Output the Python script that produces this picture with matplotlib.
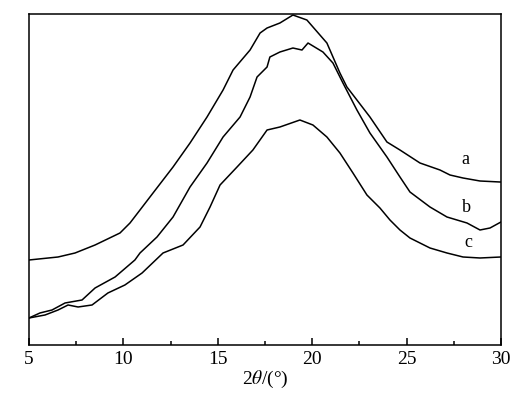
import numpy as np
import matplotlib
matplotlib.use('Agg')
import matplotlib.pyplot as plt
from matplotlib.ticker import MultipleLocator

plt.rcParams['font.family'] = 'Liberation Serif'
plt.rcParams['mathtext.fontset'] = 'stix'

# XRD patterns (2theta in degrees, intensity in arbitrary units)
a_x = [5.0, 6.54, 7.44, 8.50, 9.82, 10.35, 10.88, 11.57, 12.63, 13.53, 14.43, 15.28, 15.81,
       16.71, 17.24, 17.61, 18.29, 18.98, 19.72, 20.78, 21.47, 21.84, 22.37, 23.06, 23.96,
       24.65, 25.71, 26.77, 27.30, 27.99, 28.89, 29.95, 30.0]
a_y = [85, 88, 92, 100, 112, 122, 135, 152, 178, 202, 228, 255, 275,
       295, 312, 317, 322, 330, 325, 302, 272, 258, 245, 228, 203,
       195, 182, 175, 170, 167, 164, 163, 163]

b_x = [5.0, 5.58, 6.22, 6.91, 7.81, 8.50, 9.56, 10.61, 10.88, 11.78, 12.63, 13.53, 14.43,
       15.28, 16.18, 16.71, 17.08, 17.61, 17.76, 18.29, 18.98, 19.46, 19.78, 20.57, 21.10,
       21.63, 22.37, 23.06, 23.96, 24.65, 25.18, 26.24, 27.14, 28.20, 28.89, 29.42, 30.0]
b_y = [27, 32, 35, 42, 45, 57, 68, 85, 92, 108, 128, 158, 182,
       208, 228, 248, 268, 278, 288, 293, 297, 295, 302, 293, 282,
       262, 235, 212, 188, 168, 153, 138, 128, 122, 115, 117, 123]

c_x = [5.0, 5.85, 6.54, 7.07, 7.60, 8.34, 9.18, 10.08, 10.99, 12.10, 13.16, 14.06, 14.59,
       15.12, 16.02, 16.86, 17.61, 18.29, 19.35, 20.04, 20.78, 21.47, 22.16, 22.90, 23.59,
       24.12, 24.65, 25.18, 26.24, 27.14, 27.99, 28.89, 30.0]
c_y = [27, 30, 35, 40, 38, 40, 52, 60, 72, 92, 100, 118, 138,
       160, 178, 195, 215, 218, 225, 220, 208, 192, 172, 150, 137,
       125, 115, 107, 97, 92, 88, 87, 88]

labels = ['a', 'b', 'c']
label_x = [28.09, 28.15, 28.25]
label_y = [185, 137, 102]

fig = plt.figure(figsize=(5.29, 3.98), dpi=100)
ax = fig.add_axes([0.0548, 0.1332, 0.8922, 0.8316])

for xs, ys in [(a_x, a_y), (b_x, b_y), (c_x, c_y)]:
    ax.plot(xs, ys, color='black', lw=1.1)

for lab, lx, ly in zip(labels, label_x, label_y):
    ax.text(lx, ly, lab, fontsize=13, ha='center', va='center')

ax.set_xlim(5, 30)
ax.set_ylim(0, 331)
ax.xaxis.set_major_locator(MultipleLocator(5))
ax.xaxis.set_minor_locator(MultipleLocator(2.5))
ax.tick_params(axis='x', which='major', direction='in', length=5, width=1.1, labelsize=14, pad=4)
ax.tick_params(axis='x', which='minor', direction='in', length=3, width=1.1)
ax.set_yticks([])
for s in ax.spines.values():
    s.set_linewidth(1.1)
ax.set_xlabel(r'2$\theta$/(°)', fontsize=14, labelpad=1)

plt.savefig('out.png', dpi=100)
